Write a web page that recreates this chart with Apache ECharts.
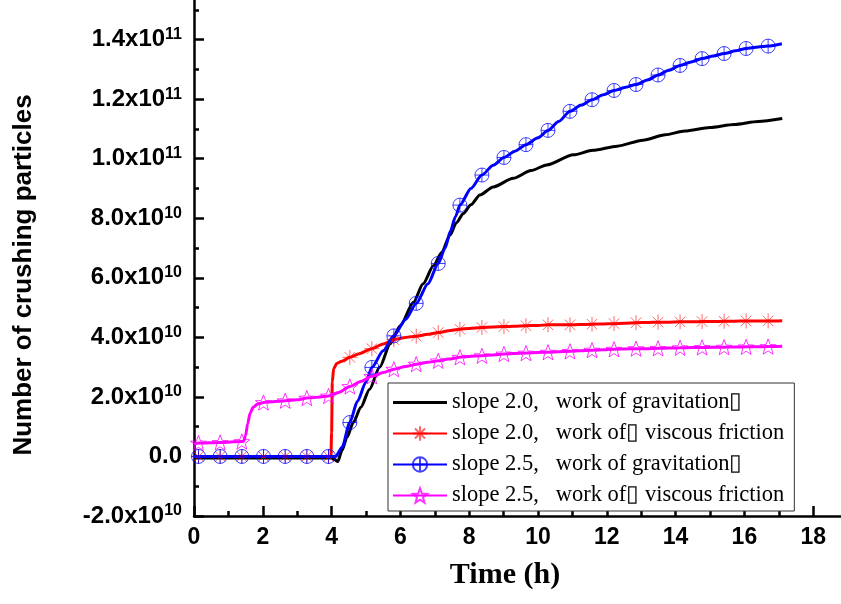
<!DOCTYPE html>
<html><head><meta charset="utf-8">
<script src="https://cdn.jsdelivr.net/npm/echarts@6/dist/echarts.min.js"></script>
<style>html,body{margin:0;padding:0;background:#fff}#c{width:841px;height:604px}</style>
</head><body><div id="c"></div>
<script>
// ---- data (values in units of 1e10) ----
const seriesNames = [
  'slope 2.0,   work of gravitation\u25AF',
  'slope 2.0,   work of\u25AF viscous friction',
  'slope 2.5,   work of gravitation\u25AF',
  'slope 2.5,   work of\u25AF viscous friction'
];
const xTicks = [0, 2, 4, 6, 8, 10, 12, 14, 16, 18];

// slope 2.0, gravitation (black, no markers)
const blackT = [0, 4.0, 4.08, 4.18, 4.3, 4.45, 4.63, 4.85, 5.1, 5.4, 5.7, 6.0, 6.38, 6.66, 6.96, 7.2, 7.44, 7.63, 7.83, 8.05, 8.31, 8.7, 9.28, 9.8, 10.25, 11.03, 11.6, 12.3, 13.05, 13.7, 14.27, 15.0, 15.7, 16.4, 17.1];
const blackV = [-0.05, -0.05, -0.1, -0.17, 0.2, 0.65, 1.14, 1.65, 2.25, 3.0, 3.78, 4.4, 5.18, 5.8, 6.4, 6.85, 7.43, 7.85, 8.16, 8.45, 8.78, 9.05, 9.34, 9.6, 9.79, 10.13, 10.28, 10.42, 10.62, 10.8, 10.93, 11.05, 11.15, 11.25, 11.35];

// marker positions (hours) shared by the three marked curves
const markT = [0.13, 0.76, 1.39, 2.02, 2.65, 3.28, 3.91, 4.53, 5.17, 5.81, 6.46, 7.1, 7.73, 8.37, 9.01, 9.65, 10.29, 10.93, 11.57, 12.21, 12.85, 13.49, 14.13, 14.77, 15.41, 16.05, 16.69];

// slope 2.0, viscous friction (red)
const redT = [0, 3.98, 4.0, 4.02, 4.06, 4.15, 4.3, 4.8, 5.5, 6.1, 6.8, 7.4, 8.0, 8.7, 9.3, 10.0, 10.6, 11.2, 11.9, 12.5, 13.2, 13.8, 14.5, 15.1, 15.7, 16.4, 17.1];
const redV = [0, 0, 0.8, 2.5, 2.95, 3.12, 3.2, 3.45, 3.78, 3.99, 4.1, 4.22, 4.3, 4.35, 4.37, 4.4, 4.42, 4.43, 4.45, 4.47, 4.5, 4.51, 4.52, 4.53, 4.54, 4.55, 4.56];
const redMarkV = [0, 0, 0, 0, 0, 0, 0, 3.33, 3.62, 3.92, 4.04, 4.16, 4.27, 4.33, 4.36, 4.39, 4.42, 4.42, 4.44, 4.46, 4.49, 4.51, 4.52, 4.53, 4.54, 4.55, 4.55];

// slope 2.5, gravitation (blue)
const blueT = [0, 4.12, 4.3, 4.75, 5.0, 5.5, 6.15, 6.8, 7.3, 7.45, 7.6, 8.05, 8.7, 9.33, 10.0, 10.6, 11.26, 11.9, 12.55, 13.2, 13.8, 14.45, 15.1, 15.75, 16.4, 17.09];
const blueV = [0, 0, 0.3, 1.85, 2.5, 3.55, 4.6, 5.8, 7.0, 7.55, 8.05, 9.0, 9.78, 10.25, 10.7, 11.25, 11.8, 12.15, 12.4, 12.65, 12.97, 13.25, 13.45, 13.62, 13.75, 13.86];
const blueMarkV = [0, 0, 0, 0, 0, 0, 0, 1.14, 2.99, 4.05, 5.14, 6.48, 8.44, 9.45, 10.04, 10.47, 10.95, 11.59, 11.98, 12.29, 12.49, 12.81, 13.13, 13.36, 13.53, 13.70, 13.78];

// slope 2.5, viscous friction (magenta)
const magT = [0, 1.44, 1.5, 1.56, 1.63, 1.72, 1.85, 2.3, 3.0, 3.6, 4.2, 4.85, 5.5, 6.15, 6.8, 7.4, 8.0, 8.7, 9.3, 10.0, 10.6, 11.2, 11.9, 12.5, 13.2, 13.8, 14.5, 15.1, 15.7, 16.4, 17.1];
const magV = [0.42, 0.51, 0.7, 1.1, 1.45, 1.65, 1.76, 1.84, 1.9, 1.99, 2.15, 2.52, 2.82, 3.02, 3.16, 3.27, 3.36, 3.41, 3.46, 3.49, 3.52, 3.55, 3.58, 3.61, 3.62, 3.64, 3.655, 3.665, 3.675, 3.685, 3.70];
const magMarkV = [0.45, 0.47, 0.5, 1.81, 1.87, 1.96, 2.03, 2.35, 2.69, 2.93, 3.1, 3.21, 3.33, 3.38, 3.44, 3.47, 3.5, 3.53, 3.57, 3.6, 3.62, 3.63, 3.65, 3.66, 3.67, 3.68, 3.69];

// ---- build ----
function build(lt, lv, mt, mv) {
  const pts = lt.map((t, i) => ({ value: [t, lv[i]], symbol: 'none' }));
  if (mt) mt.forEach((t, i) => pts.push({ value: [t, mv[i]] }));
  pts.sort((a, b) => a.value[0] - b.value[0]);
  return pts;
}
const SYM_AST = 'path://M10 0 L10 20 M0 10 L20 10 M3 3 L17 17 M17 3 L3 17';
const SYM_CIRC = 'path://M20 10 A10 10 0 1 1 0 10 A10 10 0 1 1 20 10 Z M10 0 L10 20 M0 10 L20 10';
const SYM_STAR = 'path://M10 0 L12.47 6.6 L19.51 6.91 L13.99 11.3 L15.88 18.09 L10 14.2 L4.12 18.09 L6.01 11.3 L0.49 6.91 L7.53 6.6 Z';
const ICON_LINE = 'path://M0 0 L54 0 L54 3 L0 3 Z';

function mk(name, color, data, sym, size, markColor) {
  return {
    type: 'line', name, data, smooth: 0.25, smoothMonotone: 'x',
    showAllSymbol: true, symbol: sym || 'none', symbolSize: size || 0, symbolKeepAspect: true,
    color: color,
    lineStyle: { color, width: 3 },
    itemStyle: { color: 'rgba(255,255,255,0)', borderColor: markColor || color, borderWidth: 1 },
    emphasis: { disabled: true }, animation: false, clip: true
  };
}

const chart = echarts.init(document.getElementById('c'), null, { renderer: 'canvas' });
const SANS = '"Liberation Sans", Arial, sans-serif';
chart.setOption({
  backgroundColor: '#fff',
  animation: false,
  grid: { left: 194, right: -41, top: -20, bottom: 88, containLabel: false, outerBoundsMode: 'none' },
  legend: {
    orient: 'vertical', left: 388, top: 383,
    itemWidth: 54, itemHeight: 18, itemGap: 8,
    padding: [8, 10, 4, 4],
    borderColor: '#333', borderWidth: 1, backgroundColor: '#fff',
    textStyle: { fontFamily: '"Liberation Serif", "Times New Roman", serif', fontSize: 22.5, color: '#000', lineHeight: 22 },
    data: [
      { name: seriesNames[0], icon: ICON_LINE, itemStyle: { color: '#000', borderWidth: 0 } },
      seriesNames[1], seriesNames[2], seriesNames[3]
    ]
  },
  xAxis: {
    type: 'value', min: 0, max: 20, interval: 2,
    axisLine: { show: true, onZero: false, lineStyle: { color: '#000', width: 2.5 } },
    axisTick: { show: true, inside: true, length: 10, lineStyle: { color: '#000', width: 2.5 } },
    minorTick: { show: true, splitNumber: 2, length: 5, lineStyle: { color: '#000', width: 2.5 } },
    splitLine: { show: false },
    axisLabel: { margin: 10, color: '#000', fontFamily: SANS, fontWeight: 'bold', fontSize: 23,
      formatter: v => xTicks.indexOf(v) >= 0 ? String(v) : '' }
  },
  yAxis: {
    type: 'value', min: -2, max: 16, interval: 2,
    axisLine: { show: true, onZero: false, lineStyle: { color: '#000', width: 2.5 } },
    axisTick: { show: true, inside: true, length: 10, lineStyle: { color: '#000', width: 2.5 } },
    minorTick: { show: true, splitNumber: 2, length: 5, lineStyle: { color: '#000', width: 2.5 } },
    splitLine: { show: false },
    axisLabel: {
      margin: 12, color: '#000',
      formatter: v => {
        if (Math.abs(v) < 1e-9) return '{b|0.0}';
        if (v > 14.5) return '';
        const val = v * 1e10;
        const e = Math.floor(Math.log10(Math.abs(val)) + 1e-9);
        const m = val / Math.pow(10, e);
        return '{b|' + m.toFixed(1) + 'x10}{s|' + e + '}';
      },
      rich: {
        b: { fontFamily: SANS, fontWeight: 'bold', fontSize: 24, color: '#000', lineHeight: 26 },
        s: { fontFamily: SANS, fontWeight: 'bold', fontSize: 16, color: '#000', verticalAlign: 'top', lineHeight: 15 }
      }
    }
  },
  graphic: [
    { type: 'text', x: 24, y: 275, rotation: Math.PI / 2,
      style: { text: 'Number of crushing particles', fontFamily: SANS, fontWeight: 'bold', fontSize: 26, fill: '#000', align: 'center', verticalAlign: 'middle' } },
    { type: 'text', x: 505, y: 575,
      style: { text: 'Time (h)', fontFamily: '"Liberation Serif", "Times New Roman", serif', fontWeight: 'bold', fontSize: 30, fill: '#000', align: 'center', verticalAlign: 'middle' } }
  ],
  series: [
    mk(seriesNames[0], '#000000', build(blackT, blackV), 'none', 0),
    mk(seriesNames[1], '#ff0000', build(redT, redV, markT, redMarkV), SYM_AST, 15, 'rgba(255,0,0,0.6)'),
    mk(seriesNames[2], '#0000ff', build(blueT, blueV, markT, blueMarkV), SYM_CIRC, 14, 'rgba(0,0,255,0.75)'),
    mk(seriesNames[3], '#ff00ff', build(magT, magV, markT, magMarkV), SYM_STAR, 16, 'rgba(255,0,255,0.8)')
  ]
});
</script></body></html>
